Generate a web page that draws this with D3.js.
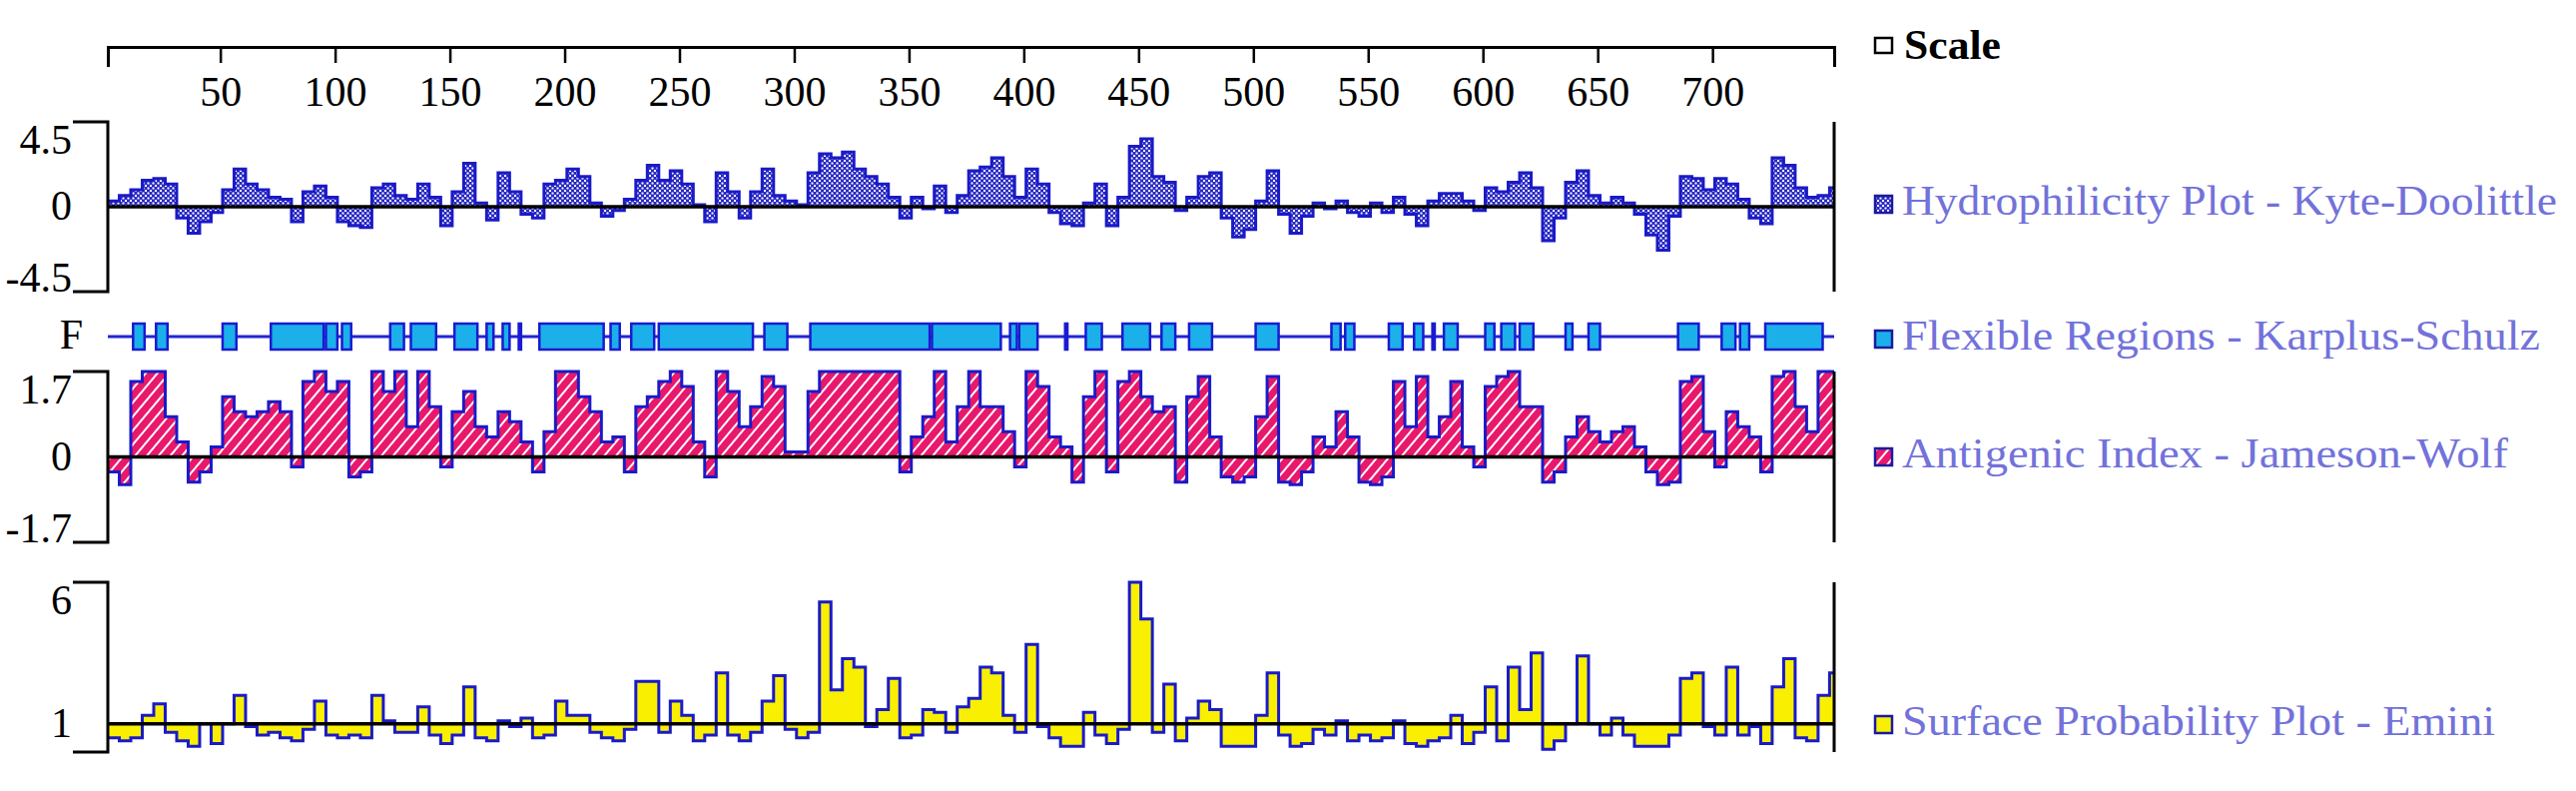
<!DOCTYPE html>
<html>
<head>
<meta charset="utf-8">
<script src="https://cdn.jsdelivr.net/npm/d3@7"></script>
<style>
  body { margin: 0; background: #fff; }
</style>
</head>
<body>
<div id="protean"></div>
<script>
// sequence length and bin width used when reading the profiles off the plot
const residues = 752;
const binSize = 5;

const scaleTicks = [50, 100, 150, 200, 250, 300, 350, 400, 450, 500, 550, 600, 650, 700];

// Kyte-Doolittle, one value per 5 residues
const hydro = [
  0.3, 0.6, 0.9, 1.4, 1.5, 1.2, -0.6, -1.4, -0.8, -0.3,
  0.9, 2.0, 1.2, 0.9, 0.5, 0.4, -0.8, 0.8, 1.1, 0.5,
  -0.8, -1.0, -1.1, 1.0, 1.2, 0.6, 0.4, 1.2, 0.5, -1.0,
  0.8, 2.3, 0.2, -0.7, 1.8, 0.8, -0.4, -0.6, 1.2, 1.4,
  2.0, 1.6, 0.2, -0.5, -0.2, 0.4, 1.4, 2.2, 1.4, 1.9,
  1.2, 0.1, -0.8, 1.8, 0.8, -0.6, 0.8, 2.0, 0.6, 0.3,
  0.1, 1.8, 2.8, 2.6, 2.9, 2.0, 1.6, 1.2, 0.5, -0.6,
  0.5, -0.1, 1.1, -0.3, 0.6, 1.9, 2.1, 2.6, 1.6, 0.5,
  2.0, 1.2, -0.3, -0.9, -1.0, 0.2, 1.2, -1.0, 0.5, 3.2,
  3.6, 1.6, 1.3, -0.2, 0.5, 1.6, 1.8, -0.6, -1.6, -1.2,
  0.3, 1.9, -0.4, -1.4, -0.5, 0.2, -0.1, 0.3, -0.3, -0.5,
  0.2, -0.3, 0.5, -0.4, -1.0, 0.3, 0.7, 0.7, 0.3, -0.2,
  1.0, 0.8, 1.3, 1.8, 1.0, -1.8, -0.6, 1.3, 1.9, 0.6,
  0.2, 0.5, 0.2, -0.4, -1.5, -2.3, -0.5, 1.6, 1.5, 0.9,
  1.5, 1.2, 0.4, -0.6, -0.9, 2.6, 2.2, 1.0, 0.5, 0.6,
  1.0
];

// Karplus-Schulz flexible regions [first, last residue]
const flexRegions = [
  [12, 16], [22, 26], [51, 56], [72, 94], [96, 100], [103, 106], [124, 129],
  [133, 143], [152, 161], [166, 168], [173, 175], [180, 180], [189, 216],
  [220, 223], [229, 238], [241, 281], [287, 296], [307, 358], [360, 389],
  [394, 396], [398, 405], [418, 418], [427, 433], [443, 454], [460, 465],
  [472, 481], [501, 510], [534, 537], [540, 543], [559, 564], [570, 573],
  [578, 578], [583, 588], [601, 604], [608, 613], [616, 621], [636, 638],
  [646, 650], [685, 693], [704, 709], [712, 715], [723, 747]
];

// Jameson-Wolf antigenic index, one value per 5 residues
const antigenic = [
  -0.3, -0.55, 1.5, 1.7, 1.7, 0.8, 0.3, -0.5, -0.3, 0.2,
  1.2, 0.9, 0.8, 0.9, 1.1, 0.9, -0.2, 1.5, 1.7, 1.3,
  1.5, -0.4, -0.3, 1.7, 1.3, 1.7, 0.6, 1.7, 1.0, -0.2,
  0.9, 1.3, 0.6, 0.4, 0.9, 0.7, 0.3, -0.3, 0.5, 1.7,
  1.7, 1.2, 0.9, 0.3, 0.4, -0.3, 1.0, 1.2, 1.5, 1.7,
  1.4, 0.3, -0.4, 1.7, 1.3, 0.6, 1.0, 1.6, 1.4, 0.1,
  0.1, 1.3, 1.7, 1.7, 1.7, 1.7, 1.7, 1.7, 1.7, -0.3,
  0.4, 0.8, 1.7, 0.3, 1.0, 1.7, 1.0, 1.0, 0.5, -0.2,
  1.7, 1.4, 0.4, 0.2, -0.5, 1.2, 1.7, -0.3, 1.5, 1.7,
  1.2, 0.9, 1.0, -0.5, 1.2, 1.6, 0.4, -0.4, -0.5, -0.4,
  0.8, 1.6, -0.5, -0.55, -0.3, 0.4, 0.2, 0.9, 0.4, -0.5,
  -0.55, -0.4, 1.5, 0.6, 1.6, 0.4, 0.8, 1.5, 0.2, -0.2,
  1.4, 1.6, 1.7, 1.0, 1.0, -0.5, -0.3, 0.4, 0.8, 0.5,
  0.3, 0.5, 0.6, 0.2, -0.3, -0.55, -0.5, 1.5, 1.6, 0.5,
  -0.2, 0.9, 0.6, 0.4, -0.3, 1.6, 1.7, 1.0, 0.5, 1.7,
  1.7
];

// Emini surface probability, one value per 5 residues
const surface = [
  0.5, 0.4, 0.5, 1.3, 1.7, 0.7, 0.4, 0.2, 1.0, 0.3,
  1.0, 2.0, 0.9, 0.6, 0.7, 0.5, 0.4, 0.8, 1.8, 0.6,
  0.5, 0.6, 0.5, 2.0, 1.1, 0.7, 0.7, 1.6, 0.6, 0.3,
  0.6, 2.3, 0.5, 0.4, 1.1, 0.9, 1.2, 0.5, 0.6, 1.8,
  1.3, 1.3, 0.7, 0.5, 0.4, 0.8, 2.5, 2.5, 0.7, 1.8,
  1.3, 0.4, 0.6, 2.8, 0.6, 0.4, 0.7, 1.8, 2.7, 0.8,
  0.5, 0.7, 5.3, 2.2, 3.3, 3.0, 0.9, 1.5, 2.6, 0.5,
  0.6, 1.5, 1.4, 0.7, 1.6, 1.9, 3.0, 2.8, 1.3, 0.7,
  3.8, 0.9, 0.5, 0.2, 0.2, 1.4, 0.6, 0.3, 0.8, 6.0,
  4.7, 0.7, 2.4, 0.4, 1.2, 1.8, 1.5, 0.2, 0.2, 0.2,
  1.3, 2.8, 0.6, 0.2, 0.3, 0.8, 0.6, 1.1, 0.4, 0.6,
  0.4, 0.5, 1.1, 0.3, 0.2, 0.4, 0.5, 1.3, 0.3, 0.7,
  2.3, 0.4, 3.0, 1.5, 3.5, 0.1, 0.4, 1.0, 3.4, 1.0,
  0.6, 1.2, 0.6, 0.2, 0.2, 0.2, 0.6, 2.6, 2.8, 0.9,
  0.6, 3.0, 0.6, 0.9, 0.3, 2.3, 3.3, 0.5, 0.4, 2.0,
  2.8
];

const hydroLabels = ["4.5", "0", "-4.5"];
const antigenicLabels = ["1.7", "0", "-1.7"];
const surfaceLabels = ["6", "1"];
const legendNames = [
  "Scale",
  "Hydrophilicity Plot - Kyte-Doolittle",
  "Flexible Regions - Karplus-Schulz",
  "Antigenic Index - Jameson-Wolf",
  "Surface Probability Plot - Emini"
];

{
  let sizex = 2580,
      sizey = 792;
  const serif = "'Liberation Serif','Times New Roman',serif";
  const blue = "#1a1ac8",
        legendColor = "#7272da";

  var svg = d3.select("#protean")
    .append("svg")
      .attr("width", sizex)
      .attr("height", sizey);

  var defs = svg.append("defs");
  // checkered fill for the hydrophilicity plot
  var chk = defs.append("pattern")
      .attr("id", "checker")
      .attr("patternUnits", "userSpaceOnUse")
      .attr("width", 5).attr("height", 5);
  chk.append("rect").attr("width", 5).attr("height", 5).attr("fill", "#2a2ac4");
  chk.append("rect").attr("width", 2).attr("height", 2).attr("fill", "#ffffff");
  chk.append("rect").attr("x", 2.5).attr("y", 2.5).attr("width", 2).attr("height", 2).attr("fill", "#ffffff");
  // striped fill for the antigenic index
  var stripe = defs.append("pattern")
      .attr("id", "stripes")
      .attr("patternUnits", "userSpaceOnUse")
      .attr("width", 9).attr("height", 9)
      .attr("patternTransform", "rotate(40)");
  stripe.append("rect").attr("width", 9).attr("height", 9).attr("fill", "#e8186c");
  stripe.append("line").attr("x1", 1).attr("x2", 1).attr("y1", 0).attr("y2", 9)
      .attr("stroke", "#ffffff").attr("stroke-width", 2);

  // x: residue position
  var scalex = d3.scaleLinear()
    .domain([1, residues + 1])
    .range([108, 1837]);

  svg.append("g")
    .attr("transform", "translate(0,47)")
    .call(d3.axisBottom(scalex).tickValues(scaleTicks).tickSize(16).tickSizeOuter(20).tickPadding(13))
    .call(g => g.select(".domain").attr("stroke-width", 3))
    .call(g => g.selectAll(".tick line").attr("stroke-width", 2.5))
    .selectAll("text")
      .style("font", "42px " + serif)
      .attr("fill", "#000");

  // step profile helpers
  function bins(values) {
    var pts = values.map((v, i) => ({pos: i * binSize + 1, v: v}));
    pts.push({pos: residues + 1, v: values[values.length - 1]});
    return pts;
  }

  function panel(values, domain, top, bottom, base, fill, labels) {
    var scaley = d3.scaleLinear().domain(domain).range([bottom, top]);
    var pts = bins(values);
    svg.append("path")
      .attr("d", d3.area().curve(d3.curveStepAfter)
        .x(d => scalex(d.pos)).y0(scaley(base)).y1(d => scaley(d.v))(pts))
      .attr("fill", fill);
    svg.append("path")
      .attr("d", d3.line().curve(d3.curveStepAfter)
        .x(d => scalex(d.pos)).y(d => scaley(d.v))(pts))
      .attr("fill", "none")
      .attr("stroke", blue)
      .attr("stroke-width", 3);
    // baseline
    svg.append("line")
      .attr("x1", scalex(1)).attr("x2", scalex(residues + 1))
      .attr("y1", scaley(base)).attr("y2", scaley(base))
      .attr("stroke", "#000").attr("stroke-width", 3.5);
    // bracket on the left, plain edge on the right
    svg.append("path")
      .attr("d", "M73," + top + "H" + scalex(1) + "V" + bottom + "H73")
      .attr("fill", "none").attr("stroke", "#000").attr("stroke-width", 3);
    svg.append("line")
      .attr("x1", scalex(residues + 1)).attr("x2", scalex(residues + 1))
      .attr("y1", top).attr("y2", bottom)
      .attr("stroke", "#000").attr("stroke-width", 3);
    labels.forEach(function(t) {
      var v = +t, yy;
      if (v === domain[1]) yy = top + 32;
      else if (v === domain[0]) yy = bottom;
      else yy = scaley(v) + 13;
      svg.append("text")
        .attr("x", 72).attr("y", yy)
        .attr("text-anchor", "end")
        .style("font", "42px " + serif)
        .text(t);
    });
  }

  panel(hydro, [-4.5, 4.5], 122, 292, 0, "url(#checker)", hydroLabels);
  panel(antigenic, [-1.7, 1.7], 372, 543, 0, "url(#stripes)", antigenicLabels);
  panel(surface, [0, 6], 583, 753, 1, "#f8f000", surfaceLabels);

  // flexible regions
  var flexY = 337;
  svg.append("line")
    .attr("x1", scalex(1)).attr("x2", scalex(residues + 1))
    .attr("y1", flexY).attr("y2", flexY)
    .attr("stroke", "#2424d4").attr("stroke-width", 3);
  flexRegions.forEach(function(r) {
    svg.append("rect")
      .attr("x", scalex(r[0]))
      .attr("y", flexY - 13)
      .attr("width", Math.max(scalex(r[1] + 1) - scalex(r[0]), 2))
      .attr("height", 26)
      .attr("fill", "#1cb0ea")
      .attr("stroke", "#1a1ad0")
      .attr("stroke-width", 2.5);
  });
  svg.append("text")
    .attr("x", 83).attr("y", flexY + 12)
    .attr("text-anchor", "end")
    .style("font", "42px " + serif)
    .text("F");

  // legend
  var legY = [59, 215, 350, 468, 736],
      legW = [97, 656, 639, 607, 594],
      legFill = ["#ffffff", "url(#checker)", "#1cb0ea", "url(#stripes)", "#f8f000"];
  legendNames.forEach(function(name, i) {
    svg.append("rect")
      .attr("x", 1878).attr("y", legY[i] - (i === 0 ? 21 : 19))
      .attr("width", 17).attr("height", i === 0 ? 15 : 17)
      .attr("fill", legFill[i])
      .attr("stroke", i === 0 ? "#000" : "#1a1aa0")
      .attr("stroke-width", 2.5);
    svg.append("text")
      .attr("x", i === 0 ? 1907 : 1905).attr("y", legY[i])
      .attr("textLength", legW[i])
      .attr("lengthAdjust", "spacingAndGlyphs")
      .style("font", (i === 0 ? "bold " : "") + "42px " + serif)
      .attr("fill", i === 0 ? "#000" : legendColor)
      .text(name);
  });
}
</script>
</body>
</html>
